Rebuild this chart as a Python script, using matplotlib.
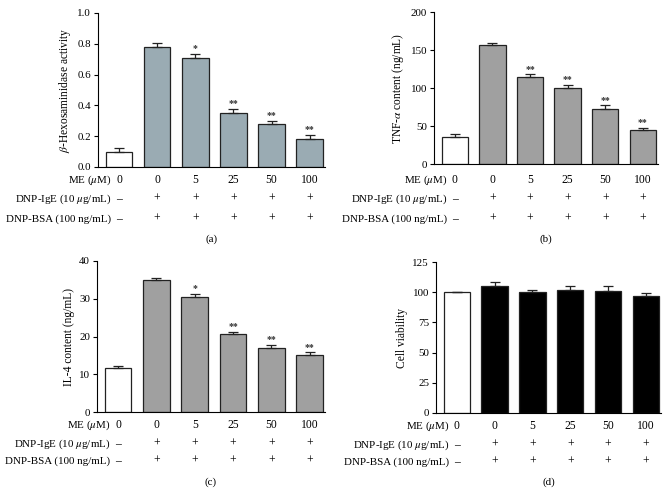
import matplotlib
matplotlib.use("Agg")
import matplotlib.pyplot as plt
import matplotlib.transforms as mtransforms
import numpy as np

plt.rcParams['font.family'] = ['Liberation Serif', 'DejaVu Serif']
plt.rcParams['mathtext.fontset'] = 'stix'

# data
me_doses = ['0', '0', '5', '25', '50', '100']
ige = ['–', '+', '+', '+', '+', '+']
bsa = ['–', '+', '+', '+', '+', '+']

hex_vals = [0.10, 0.78, 0.71, 0.35, 0.28, 0.18]
hex_err = [0.025, 0.025, 0.025, 0.025, 0.02, 0.03]
hex_sig = ['', '', '*', '**', '**', '**']

tnf_vals = [35, 156, 115, 100, 73, 45]
tnf_err = [5, 3, 3, 4, 4, 3]
tnf_sig = ['', '', '**', '**', '**', '**']

il4_vals = [11.6, 35.0, 30.5, 20.6, 17.0, 15.0]
il4_err = [0.6, 0.6, 0.7, 0.7, 0.7, 0.8]
il4_sig = ['', '', '*', '**', '**', '**']

via_vals = [100, 105.5, 100, 102, 101, 97]
via_err = [0, 3, 2, 3.5, 4.5, 2]
via_sig = ['', '', '', '', '', '']

W, H = 672, 493
fig = plt.figure(figsize=(W / 100, H / 100), dpi=100)
FS = 7.9


def panel(left, top, bottom, right, vals, err, sig, color, ylim, yticks,
          ylabel, tag, rows_y, tag_y):
    ax = fig.add_axes([left / W, 1 - bottom / H, (right - left) / W,
                       (bottom - top) / H])
    x = np.arange(len(vals))
    colors = ['white'] + [color] * (len(vals) - 1)
    ax.bar(x, vals, width=0.7, color=colors, edgecolor='#222222',
           linewidth=0.9, zorder=2)
    ax.errorbar(x, vals, yerr=[np.zeros(len(err)), err], fmt='none',
                ecolor='#222222', elinewidth=0.9, capsize=3.5,
                capthick=0.9, zorder=3)
    span = ylim[1] - ylim[0]
    for xi, v, e, s in zip(x, vals, err, sig):
        if s:
            ax.text(xi, v + e + span * 0.005, s, ha='center', va='bottom',
                    fontsize=7, fontweight='bold', color='#333333')
    ax.set_xlim(-0.55, 5.4)
    ax.set_ylim(*ylim)
    ax.set_yticks(yticks)
    ax.set_xticks([])
    ax.spines['top'].set_visible(False)
    ax.spines['right'].set_visible(False)
    ax.spines['left'].set_linewidth(0.8)
    ax.spines['bottom'].set_linewidth(0.8)
    ax.tick_params(axis='y', direction='out', length=3, width=0.8,
                   labelsize=FS, pad=2)
    ax.set_ylabel(ylabel, fontsize=8.3, labelpad=3)

    tr = mtransforms.blended_transform_factory(ax.transData, fig.transFigure)
    names = [r'ME ($\mathit{\mu}$M)', r'DNP-IgE (10 $\mathit{\mu}$g/mL)',
             'DNP-BSA (100 ng/mL)']
    for name, cells, ry in zip(names, [me_doses, ige, bsa], rows_y):
        yy = 1 - ry / H
        ax.text(-0.2, yy, name, transform=tr, ha='right', va='center',
                fontsize=FS, clip_on=False)
        for xi, c in zip(x, cells):
            ax.text(xi, yy, c, transform=tr, ha='center', va='center',
                    fontsize=FS + 0.5, clip_on=False)
    fig.text((left + right) / 2 / W, 1 - tag_y / H, tag, ha='center',
             va='center', fontsize=FS)
    return ax


panel(98, 13, 167, 325, hex_vals, hex_err, hex_sig, '#9aabb3', (0, 1.0),
      [0, 0.2, 0.4, 0.6, 0.8, 1.0],
      r'$\mathit{\beta}$-Hexosaminidase activity', '(a)', [180, 199, 219], 239)

panel(434, 12, 164, 658, tnf_vals, tnf_err, tnf_sig, '#a0a0a0', (0, 200),
      [0, 50, 100, 150, 200],
      r'TNF-$\mathit{\alpha}$ content (ng/mL)', '(b)', [180, 199, 219], 239)

panel(97, 261, 412, 325, il4_vals, il4_err, il4_sig, '#a0a0a0', (0, 40),
      [0, 10, 20, 30, 40], 'IL-4 content (ng/mL)', '(c)', [425, 444, 461], 482)

panel(436, 262, 413, 661, via_vals, via_err, via_sig, '#000000', (0, 125),
      [0, 25, 50, 75, 100, 125], 'Cell viability', '(d)', [426, 445, 462], 482)

fig.savefig('out.png', dpi=100)
